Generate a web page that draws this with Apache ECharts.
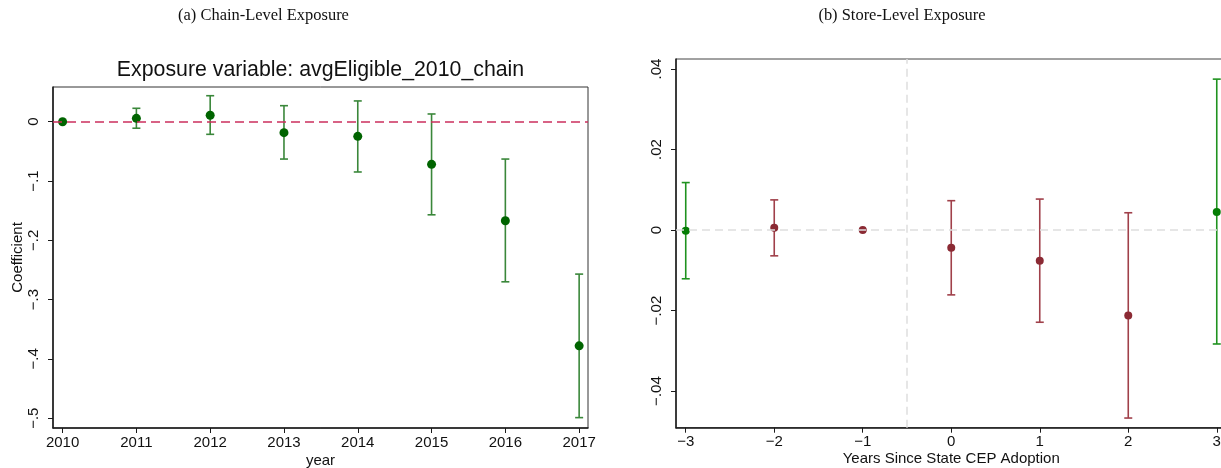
<!DOCTYPE html>
<html>
<head>
<meta charset="utf-8">
<script src="https://cdn.jsdelivr.net/npm/echarts@6/dist/echarts.min.js"></script>
<style>
  html, body { margin: 0; padding: 0; background: #fff; }
  #chart { width: 1221px; height: 468px; }
</style>
</head>
<body>
<div id="chart"></div>
<script>
// Panel (a): chain-level exposure, coefficients by year with 95% CIs
const chainYears = [2010, 2011, 2012, 2013, 2014, 2015, 2016, 2017];
const chainCoef  = [0, 0.0057, 0.0108, -0.0185, -0.0247, -0.0719, -0.167, -0.378];
const chainLo    = [null, -0.011, -0.0213, -0.063, -0.0848, -0.157, -0.27, -0.499];
const chainHi    = [null, 0.0226, 0.0438, 0.027, 0.035, 0.013, -0.063, -0.257];
const chainYTicks = [-0.5, -0.4, -0.3, -0.2, -0.1, 0];

// Panel (b): store-level exposure, event time relative to state CEP adoption
const storeEventTime = [-3, -2, -1, 0, 1, 2, 3];
const storeCoef = [-0.0002, 0.0006, 0, -0.0044, -0.0076, -0.0212, 0.0045];
const storeLo   = [-0.0121, -0.0064, null, -0.0161, -0.0229, -0.0467, -0.0283];
const storeHi   = [0.0118, 0.0075, null, 0.0073, 0.0077, 0.0043, 0.0375];
const storeBinned = [-3, 3];            // binned endpoint periods
const storeYTicks = [-0.04, -0.02, 0, 0.02, 0.04];

const SANS = '"Liberation Sans", Arial, sans-serif';
const SERIF = '"Liberation Serif", "DejaVu Serif", serif';
const MINUS = '\u2212';

// Stata-style number labels: ".04", "−.2", "0"
function stataNum(v) {
  if (Math.abs(v) < 1e-12) return '0';
  let s = String(parseFloat(Math.abs(v).toPrecision(6)));
  if (s.startsWith('0.')) s = s.slice(1);
  return (v < 0 ? MINUS : '') + s;
}
function signedInt(v) { return (v < 0 ? MINUS : '') + Math.abs(v); }

function errorBars(color) {
  return function (params, api) {
    const x = api.value(0);
    const pLo = api.coord([x, api.value(1)]);
    const pHi = api.coord([x, api.value(2)]);
    const half = 4;
    const style = { stroke: color, lineWidth: 1.6, fill: null };
    return {
      type: 'group',
      children: [
        { type: 'line', shape: { x1: pHi[0], y1: pHi[1], x2: pLo[0], y2: pLo[1] }, style },
        { type: 'line', shape: { x1: pHi[0] - half, y1: pHi[1], x2: pHi[0] + half, y2: pHi[1] }, style },
        { type: 'line', shape: { x1: pLo[0] - half, y1: pLo[1], x2: pLo[0] + half, y2: pLo[1] }, style }
      ]
    };
  };
}

function ciRows(xs, lo, hi, keep) {
  const rows = [];
  xs.forEach((x, i) => {
    if (lo[i] !== null && hi[i] !== null && (!keep || keep(x))) rows.push([x, lo[i], hi[i]]);
  });
  return rows;
}
function pointRows(xs, ys, keep) {
  const rows = [];
  xs.forEach((x, i) => { if (!keep || keep(x)) rows.push([x, ys[i]]); });
  return rows;
}
const isBinned = x => storeBinned.includes(x);
const notBinned = x => !storeBinned.includes(x);

const axisLineStyle = { color: '#1a1a1a', width: 1.5 };
const tickLabel = { color: '#111', fontFamily: SANS, fontSize: 15 };
const nameStyle = { color: '#111', fontFamily: SANS, fontSize: 15 };

const option = {
  backgroundColor: '#fff',
  animation: false,
  graphic: [
    { type: 'text', x: 263.5, y: 15, scaleX: 0.94,
      style: { text: '(a) Chain-Level Exposure', font: '17.5px ' + SERIF, fill: '#111',
               align: 'center', verticalAlign: 'middle' } },
    { type: 'text', x: 902, y: 15, scaleX: 0.94,
      style: { text: '(b) Store-Level Exposure', font: '17.5px ' + SERIF, fill: '#111',
               align: 'center', verticalAlign: 'middle' } },
    { type: 'text', x: 320.5, y: 70,
      style: { text: 'Exposure variable: avgEligible_2010_chain', font: '21.3px ' + SANS,
               fill: '#111', align: 'center', verticalAlign: 'middle' } }
  ],
  grid: [
    { left: 53, top: 87, width: 535, height: 341, show: true, borderColor: '#333', borderWidth: 1,
      containLabel: false, outerBoundsMode: 'none' },
    { left: 676, top: 59, right: -5.5, height: 368.7, show: true, borderColor: '#444', borderWidth: 1,
      containLabel: false, outerBoundsMode: 'none' }
  ],
  xAxis: [
    {
      type: 'value', gridIndex: 0, min: 2009.87, max: 2017.12,
      name: 'year', nameLocation: 'middle', nameGap: 25, nameMoveOverlap: false,
      nameTextStyle: nameStyle,
      axisLine: { show: true, onZero: false, lineStyle: axisLineStyle },
      axisTick: { show: true, length: 5, lineStyle: { color: '#1a1a1a' }, customValues: chainYears },
      axisLabel: Object.assign({ margin: 7, customValues: chainYears, formatter: v => String(v) }, tickLabel),
      splitLine: { show: false }
    },
    {
      type: 'value', gridIndex: 1, min: -3.11, max: 3.11,
      name: 'Years Since State CEP Adoption', nameLocation: 'middle', nameGap: 24, nameMoveOverlap: false,
      nameTextStyle: nameStyle,
      axisLine: { show: true, onZero: false, lineStyle: axisLineStyle },
      axisTick: { show: true, length: 5, lineStyle: { color: '#1a1a1a' }, customValues: storeEventTime },
      axisLabel: Object.assign({ margin: 7, customValues: storeEventTime, formatter: signedInt }, tickLabel),
      splitLine: { show: false }
    }
  ],
  yAxis: [
    {
      type: 'value', gridIndex: 0, min: -0.5165, max: 0.0585,
      name: 'Coefficient', nameLocation: 'middle', nameGap: 28, nameRotate: 90, nameMoveOverlap: false,
      nameTextStyle: nameStyle,
      axisLine: { show: true, onZero: false, lineStyle: axisLineStyle },
      axisTick: { show: true, length: 5, lineStyle: { color: '#1a1a1a' }, customValues: chainYTicks },
      axisLabel: Object.assign({ margin: 12, rotate: 90, customValues: chainYTicks, formatter: stataNum }, tickLabel),
      splitLine: { show: false }
    },
    {
      type: 'value', gridIndex: 1, min: -0.0491, max: 0.0425,
      axisLine: { show: true, onZero: false, lineStyle: axisLineStyle },
      axisTick: { show: true, length: 5, lineStyle: { color: '#1a1a1a' }, customValues: storeYTicks },
      axisLabel: Object.assign({ margin: 12, rotate: 90, customValues: storeYTicks, formatter: stataNum }, tickLabel),
      splitLine: { show: false }
    }
  ],
  series: [
    // Panel (a) zero reference line
    {
      type: 'line', xAxisIndex: 0, yAxisIndex: 0, data: [], z: 1,
      markLine: {
        silent: true, symbol: 'none', label: { show: false },
        lineStyle: { color: '#cc2f5e', width: 1.5, type: [9, 5], opacity: 1 },
        data: [{ yAxis: 0 }]
      }
    },
    {
      type: 'custom', xAxisIndex: 0, yAxisIndex: 0, z: 2,
      renderItem: errorBars('#3a873a'),
      encode: { x: 0, y: [1, 2] },
      data: ciRows(chainYears, chainLo, chainHi)
    },
    {
      type: 'scatter', xAxisIndex: 0, yAxisIndex: 0, z: 3,
      symbol: 'circle', symbolSize: 9,
      itemStyle: { color: '#006400', opacity: 1 },
      data: pointRows(chainYears, chainCoef)
    },
    // Panel (b) reference lines: zero effect and adoption cutoff
    {
      type: 'line', xAxisIndex: 1, yAxisIndex: 1, data: [], z: 1,
      markLine: {
        silent: true, symbol: 'none', label: { show: false },
        lineStyle: { color: '#dedede', width: 1.5, type: [8, 5], opacity: 1 },
        data: [{ yAxis: 0 }, { xAxis: -0.5 }]
      }
    },
    {
      type: 'custom', xAxisIndex: 1, yAxisIndex: 1, z: 2,
      renderItem: errorBars('#a0404a'),
      encode: { x: 0, y: [1, 2] },
      data: ciRows(storeEventTime, storeLo, storeHi, notBinned)
    },
    {
      type: 'custom', xAxisIndex: 1, yAxisIndex: 1, z: 2,
      renderItem: errorBars('#1f921f'),
      encode: { x: 0, y: [1, 2] },
      data: ciRows(storeEventTime, storeLo, storeHi, isBinned)
    },
    {
      type: 'scatter', xAxisIndex: 1, yAxisIndex: 1, z: 3,
      symbol: 'circle', symbolSize: 8,
      itemStyle: { color: '#8b2a34', opacity: 1 },
      data: pointRows(storeEventTime, storeCoef, notBinned)
    },
    {
      type: 'scatter', xAxisIndex: 1, yAxisIndex: 1, z: 3,
      symbol: 'circle', symbolSize: 8,
      itemStyle: { color: '#047d04', opacity: 1 },
      data: pointRows(storeEventTime, storeCoef, isBinned)
    }
  ]
};

const chart = echarts.init(document.getElementById('chart'), null, { renderer: 'canvas' });
chart.setOption(option);
</script>
</body>
</html>
